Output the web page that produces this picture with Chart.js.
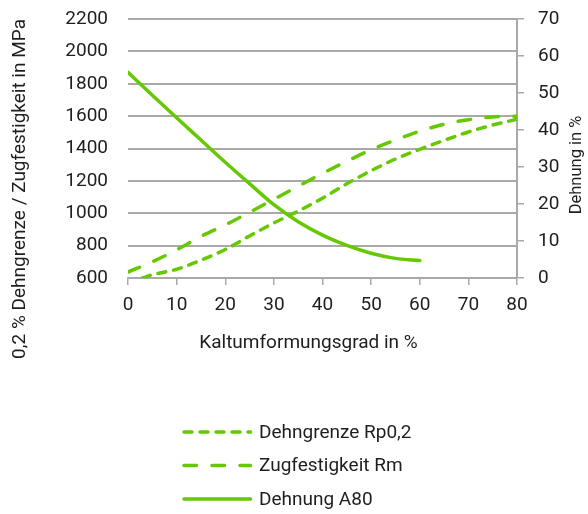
<!DOCTYPE html>
<html><head><meta charset="utf-8">
<script src="https://cdn.jsdelivr.net/npm/chart.js@4"></script>
<style>html,body{margin:0;padding:0;background:#fff}canvas{display:block}</style>
</head><body>
<canvas id="c" width="588" height="514"></canvas>
<script>
// ---- data ----
const rpX = [3, 5, 10, 15, 20, 25, 30, 35, 40, 45, 50, 55, 60, 65, 70, 75, 80];
const rpY = [600, 620, 654, 710, 776, 860, 940, 1013, 1093, 1182, 1263, 1335, 1395, 1450, 1502, 1545, 1581];
const rmX = [0, 5, 10, 15, 20, 25, 30, 35, 40, 45, 50, 55, 60, 65, 70, 75, 80];
const rmY = [637, 700, 774, 857, 928, 1006, 1086, 1167, 1246, 1321, 1393, 1453, 1507, 1550, 1578, 1595, 1600];
const a80X = [0, 5, 10, 15, 20, 25, 30, 35, 40, 45, 50, 55, 60];
const a80Y = [55.6, 49.4, 43.3, 37.3, 31.3, 25.5, 19.8, 15.2, 11.6, 8.8, 6.7, 5.3, 4.7];
const seriesNames = ['Dehngrenze Rp0,2', 'Zugfestigkeit Rm', 'Dehnung A80'];
const xTitle = 'Kaltumformungsgrad in %';
const yTitle = '0,2 % Dehngrenze / Zugfestigkeit in MPa';
const y1Title = 'Dehnung in %';

const GREEN = '#66c800';
const GRID = '#a9a9a9';
const TXT = '#1e1e1e';
const FONT = 'Roboto';
const FS = 19;

const pts = (xs, ys) => xs.map((x, i) => ({x, y: ys[i]}));
const noPad = s => { s.paddingTop = 0; s.paddingBottom = 0; s.paddingLeft = 0; s.paddingRight = 0; };

const extras = {
  id: 'extras',
  afterDraw(chart) {
    const ctx = chart.ctx;
    ctx.save();
    ctx.fillStyle = TXT;
    // bottom axis title
    ctx.font = FS + 'px ' + FONT;
    ctx.textAlign = 'center';
    ctx.textBaseline = 'middle';
    ctx.fillText(xTitle, 308.5, 343.5);
    // right axis title (reads bottom to top)
    ctx.save();
    ctx.font = '16.5px ' + FONT;
    ctx.translate(577, 165);
    ctx.rotate(-Math.PI / 2);
    ctx.textAlign = 'center';
    ctx.textBaseline = 'middle';
    ctx.fillText(y1Title, 0, 0);
    ctx.restore();
    // legend, stacked vertically
    ctx.font = FS + 'px ' + FONT;
    const rows = [432, 465.5, 499];
    chart.data.datasets.forEach((ds, i) => {
      const y = rows[i];
      ctx.save();
      ctx.strokeStyle = ds.borderColor;
      ctx.lineWidth = ds.borderWidth;
      ctx.lineCap = 'round';
      ctx.setLineDash(ds.borderDash || []);
      ctx.beginPath();
      ctx.moveTo(184, y);
      ctx.lineTo(250.5, y);
      ctx.stroke();
      ctx.restore();
      ctx.textAlign = 'left';
      ctx.textBaseline = 'middle';
      ctx.fillText(ds.label, 259, y + 1);
    });
    ctx.restore();
  }
};

new Chart(document.getElementById('c'), {
  type: 'line',
  data: {
    datasets: [
      {label: seriesNames[0], data: pts(rpX, rpY), yAxisID: 'y', borderColor: GREEN, borderWidth: 3.5,
       borderDash: [8, 8], borderCapStyle: 'round', pointRadius: 0, cubicInterpolationMode: 'monotone', fill: false},
      {label: seriesNames[1], data: pts(rmX, rmY), yAxisID: 'y', borderColor: GREEN, borderWidth: 3.5,
       borderDash: [12.5, 15.5], borderCapStyle: 'round', pointRadius: 0, cubicInterpolationMode: 'monotone', fill: false},
      {label: seriesNames[2], data: pts(a80X, a80Y), yAxisID: 'y1', borderColor: GREEN, borderWidth: 3.5,
       borderCapStyle: 'round', pointRadius: 0, cubicInterpolationMode: 'monotone', fill: false}
    ]
  },
  options: {
    responsive: false,
    animation: false,
    devicePixelRatio: 1,
    layout: {padding: {top: 19, bottom: 156, left: 0, right: 0}},
    plugins: {legend: {display: false}, tooltip: {enabled: false}},
    font: {family: FONT},
    scales: {
      x: {
        type: 'linear', min: 0, max: 80,
        ticks: {stepSize: 10, color: TXT, font: {family: FONT, size: FS}, padding: 9, maxRotation: 0,
                callback: v => String(v)},
        grid: {drawOnChartArea: false, drawTicks: true, tickLength: 7, color: GRID, lineWidth: 1.5},
        border: {display: true, color: GRID, width: 1.5},
        title: {display: false, text: xTitle},
        afterFit(s) { s.height = 80; noPad(s); }
      },
      y: {
        position: 'left', min: 600, max: 2200,
        ticks: {stepSize: 200, color: TXT, font: {family: FONT, size: FS}, padding: 20, callback: v => String(v)},
        grid: {drawTicks: false, color: GRID, lineWidth: 2},
        border: {display: false},
        title: {display: true, text: yTitle, align: 'end', color: TXT, font: {family: FONT, size: FS}, padding: {top: 8.5, bottom: 0}},
        afterFit(s) { s.width = 128; noPad(s); }
      },
      y1: {
        position: 'right', min: 0, max: 70,
        ticks: {stepSize: 10, color: TXT, font: {family: FONT, size: FS}, padding: 14, callback: v => String(v)},
        grid: {drawOnChartArea: false, drawTicks: true, tickLength: 7, color: GRID, lineWidth: 1.5},
        border: {display: true, color: GRID, width: 2},
        afterFit(s) { s.width = 71; noPad(s); }
      }
    }
  },
  plugins: [extras]
});
</script>
</body></html>
